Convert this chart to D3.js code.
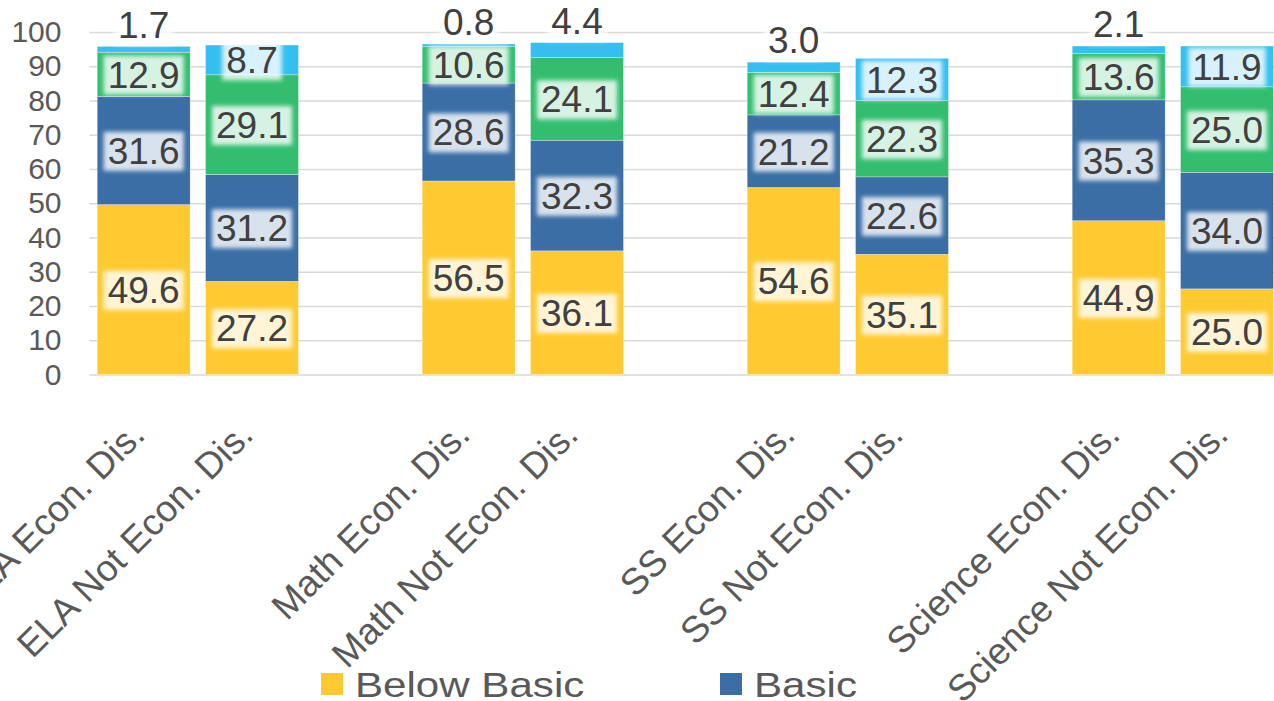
<!DOCTYPE html>
<html>
<head>
<meta charset="utf-8">
<script src="https://cdn.jsdelivr.net/npm/d3@7"></script>
<style>
  html, body { margin: 0; padding: 0; background: #fff; overflow: hidden; }
  svg { display: block; font-family: "Liberation Sans", Arial, sans-serif; }
</style>
</head>
<body>
<div id="chart"></div>
<script>
// chart values
var categories = ["ELA Econ. Dis.", "ELA Not Econ. Dis.",
                  "Math Econ. Dis.", "Math Not Econ. Dis.",
                  "SS Econ. Dis.", "SS Not Econ. Dis.",
                  "Science Econ. Dis.", "Science Not Econ. Dis."];
var belowBasic = [49.6, 27.2, 56.5, 36.1, 54.6, 35.1, 44.9, 25.0];
var basic      = [31.6, 31.2, 28.6, 32.3, 21.2, 22.6, 35.3, 34.0];
var proficient = [12.9, 29.1, 10.6, 24.1, 12.4, 22.3, 13.6, 25.0];
var advanced   = [1.7, 8.7, 0.8, 4.4, 3.0, 12.3, 2.1, 11.9];
var seriesNames = ["Below Basic", "Basic", "Proficient", "Advanced"];
var seriesColors = ["#FFCA31", "#3A6EA5", "#33BE6F", "#35BFF1"];
var yTicks = [0, 10, 20, 30, 40, 50, 60, 70, 80, 90, 100];

var W = 1274, H = 701;
var svg = d3.select("#chart").append("svg")
    .attr("width", W)
    .attr("height", H);

// soft white glow behind data labels
var filter = svg.append("defs").append("filter")
    .attr("id", "glow")
    .attr("x", "-20%").attr("y", "-30%")
    .attr("width", "140%").attr("height", "160%");
filter.append("feGaussianBlur").attr("stdDeviation", 2);

// each pair of bars is followed by an empty slot
var slots = [];
categories.forEach(function(c, i) {
  slots.push(c);
  if (i % 2 === 1) slots.push("gap" + i);
});

var x = d3.scaleBand()
    .domain(slots)
    .range([89.5, 89.5 + 1300])
    .paddingInner(0.142)
    .paddingOuter(0.071);

var y = d3.scaleLinear()
    .domain([0, 100])
    .range([374.5, 32]);

// gridlines
svg.append("g")
    .attr("class", "grid")
    .attr("transform", "translate(89.5,0)")
    .call(d3.axisLeft(y).tickValues(yTicks).tickSize(-1300).tickFormat(""))
    .call(function(g) { g.select(".domain").remove(); })
    .selectAll("line")
      .attr("stroke", "#d9d9d9")
      .attr("stroke-width", 1.4);

// y axis labels
svg.append("g")
    .attr("transform", "translate(89.5,0)")
    .call(d3.axisLeft(y).tickValues(yTicks).tickSize(0).tickPadding(28))
    .call(function(g) { g.select(".domain").remove(); })
    .selectAll("text")
      .attr("fill", "#595959")
      .style("font-size", "30px")
      .style("font-family", "'Liberation Sans', Arial, sans-serif");

// stacked bars
var rows = categories.map(function(c, i) {
  return { cat: c, "Below Basic": belowBasic[i], "Basic": basic[i],
           "Proficient": proficient[i], "Advanced": advanced[i] };
});
var stacked = d3.stack().keys(seriesNames)(rows);

var layers = svg.append("g").selectAll("g.layer")
    .data(stacked)
    .join("g")
    .attr("class", "layer")
    .attr("fill", function(d, i) { return seriesColors[i]; });

layers.selectAll("rect")
    .data(function(d) { return d; })
    .join("rect")
    .attr("x", function(d) { return x(d.data.cat); })
    .attr("width", x.bandwidth())
    .attr("y", function(d) { return y(d[1]); })
    .attr("height", function(d) { return y(d[0]) - y(d[1]); })
    .attr("stroke", "#ffffff")
    .attr("stroke-opacity", 0.5)
    .attr("stroke-width", 0.6);

// data labels
var labelData = [];
stacked.forEach(function(layer) {
  layer.forEach(function(d) {
    var v = d[1] - d[0];
    var small = layer.key === "Advanced" && v < 5;
    labelData.push({
      value: v,
      cx: x(d.data.cat) + x.bandwidth() / 2,
      cy: small ? y(d[1]) - 22 : y((d[0] + d[1]) / 2)
    });
  });
});

var labels = svg.append("g").selectAll("g.lbl")
    .data(labelData)
    .join("g")
    .attr("class", "lbl")
    .attr("transform", function(d) { return "translate(" + d.cx + "," + d.cy + ")"; });

labels.append("rect").attr("class", "box");
labels.append("text")
    .attr("text-anchor", "middle")
    .attr("dy", "0.36em")
    .attr("fill", "#404040")
    .style("font-size", "37px")
    .text(function(d) { return d3.format(".1f")(d.value); });

labels.each(function() {
  var g = d3.select(this);
  var bb = g.select("text").node().getBBox();
  g.select("rect.box")
      .attr("x", bb.x - 4)
      .attr("y", bb.y + 1)
      .attr("width", bb.width + 8)
      .attr("height", bb.height - 2)
      .attr("fill", "#ffffff")
      .attr("fill-opacity", 0.8)
      .attr("filter", "url(#glow)");
});

// category labels, rotated
svg.append("g").selectAll("text.cat")
    .data(categories)
    .join("text")
    .attr("class", "cat")
    .attr("text-anchor", "end")
    .attr("transform", function(d) {
      return "translate(" + (x(d) + x.bandwidth() / 2 + 3) + ",437) rotate(-45)";
    })
    .attr("fill", "#595959")
    .style("font-size", "37px")
    .text(function(d) { return d; });

// legend (second row falls below the visible area)
var legend = svg.append("g").selectAll("g.leg")
    .data(seriesNames)
    .join("g")
    .attr("class", "leg")
    .attr("transform", function(d, i) {
      return "translate(" + (321 + (i % 2) * 399) + "," + (673 + Math.floor(i / 2) * 60) + ")";
    });

legend.append("rect")
    .attr("width", 22)
    .attr("height", 22)
    .attr("fill", function(d, i) { return seriesColors[i]; });

legend.append("text")
    .attr("transform", "translate(34,24) scale(1.17,1)")
    .attr("fill", "#595959")
    .style("font-size", "36px")
    .text(function(d) { return d; });
</script>
</body>
</html>
